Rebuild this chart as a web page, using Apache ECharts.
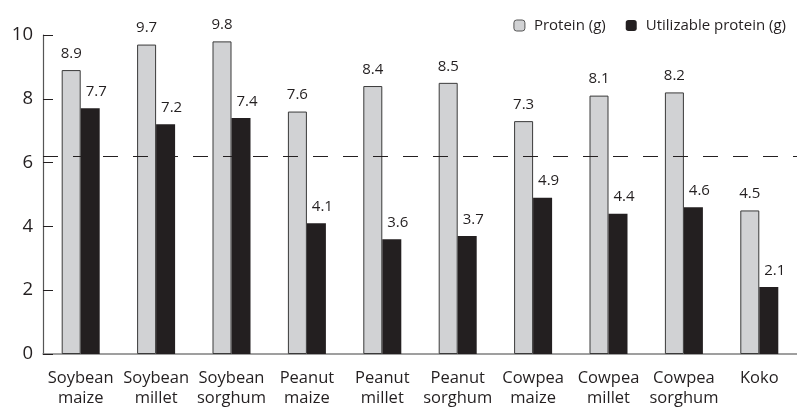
<!DOCTYPE html>
<html><head><meta charset="utf-8">
<script src="https://cdn.jsdelivr.net/npm/echarts@6/dist/echarts.min.js"></script>
<style>html,body{margin:0;padding:0;background:#fff}#c{width:797px;height:408px}</style>
</head><body><div id="c"></div>
<script>
const categories = ['Soybean\nmaize','Soybean\nmillet','Soybean\nsorghum','Peanut\nmaize','Peanut\nmillet','Peanut\nsorghum','Cowpea\nmaize','Cowpea\nmillet','Cowpea\nsorghum','Koko'];
const protein = [8.9, 9.7, 9.8, 7.6, 8.4, 8.5, 7.3, 8.1, 8.2, 4.5];
const utilizable = [7.7, 7.2, 7.4, 4.1, 3.6, 3.7, 4.9, 4.4, 4.6, 2.1];
const referenceLine = 6.2;
const yTicks = [0, 2, 4, 6, 8, 10];

const FONT = 'Open Sans';
const chart = echarts.init(document.getElementById('c'), null, {renderer: 'canvas'});
chart.setOption({
  animation: false,
  textStyle: {fontFamily: FONT, color: '#231f20'},
  legend: {
    right: 6, top: 13, itemWidth: 11, itemHeight: 11, itemGap: 20,
    textStyle: {fontFamily: FONT, fontSize: 15, color: '#231f20', padding: [0, 0, 0, 4]},
    data: [
      {name: 'Protein (g)', itemStyle: {color: '#d1d2d4', borderColor: '#555', borderWidth: 1}},
      {name: 'Utilizable protein (g)', itemStyle: {color: '#231f20'}}
    ]
  },
  grid: {left: 43, right: 0, top: 35, bottom: 54, containLabel: false},
  xAxis: {
    type: 'category', data: categories,
    axisLine: {lineStyle: {color: '#808080', width: 1.5}},
    axisTick: {show: false},
    axisLabel: {interval: 0, fontFamily: FONT, fontSize: 16.5, color: '#231f20', margin: 14, lineHeight: 20}
  },
  yAxis: {
    type: 'value', min: yTicks[0], max: yTicks[yTicks.length-1], interval: 2,
    splitLine: {show: false},
    axisLine: {show: true, lineStyle: {color: '#555', width: 1.2}},
    axisTick: {show: true, inside: true, length: 10, lineStyle: {color: '#231f20'}},
    axisLabel: {fontFamily: FONT, fontSize: 18.5, color: '#231f20', margin: 10}
  },
  series: [
    {
      name: 'Protein (g)', type: 'bar', data: protein, barWidth: 19, barGap: '0%',
      itemStyle: {color: '#d1d2d4', borderColor: '#3a3a3a', borderWidth: 1},
      label: {show: true, position: 'top', distance: 9, fontFamily: FONT, fontSize: 15, color: '#231f20'},
      markLine: {
        silent: true, symbol: 'none', label: {show: false},
        lineStyle: {color: '#231f20', type: [15, 15], width: 1},
        data: [{yAxis: referenceLine}]
      }
    },
    {
      name: 'Utilizable protein (g)', type: 'bar', data: utilizable, barWidth: 19,
      itemStyle: {color: '#231f20'},
      label: {show: true, position: 'top', distance: 9, offset: [6, 0], fontFamily: FONT, fontSize: 15, color: '#231f20'}
    }
  ]
});
</script></body></html>
